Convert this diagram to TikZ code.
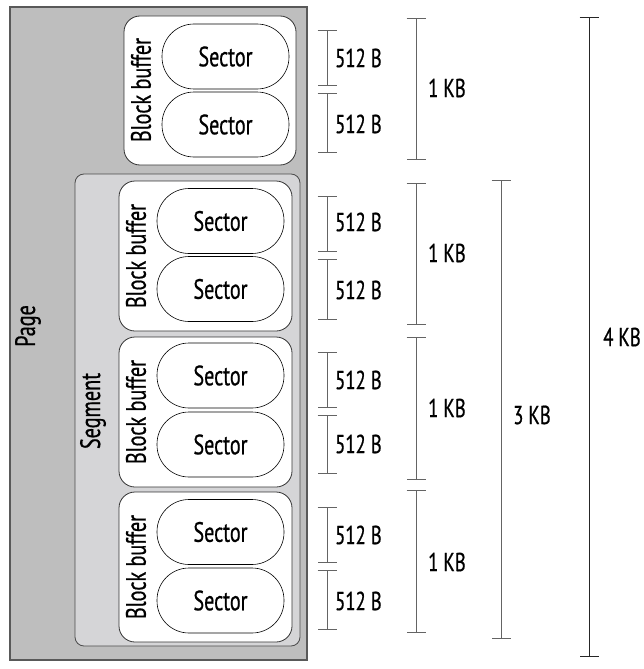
\documentclass[tikz,border=0pt]{standalone}
\usepackage{fontspec}
\setmainfont{PT Sans}[FakeStretch=0.72,FakeBold=0.6,AutoFakeBold=0]
\usetikzlibrary{arrows.meta}
\definecolor{pagegray}{RGB}{190,190,190}
\definecolor{seggray}{RGB}{213,213,215}
\definecolor{bargray}{RGB}{100,100,100}
\begin{document}
\begin{tikzpicture}[x=1pt,y=-1pt,
  lbl/.style={font=\fontsize{26}{28}\selectfont, inner sep=0pt},
  vlbl/.style={font=\fontsize{28}{30}\selectfont, inner sep=0pt, rotate=90},
  pagebox/.style={draw=black!65, line width=1.5pt, fill=pagegray, minimum width=297pt, minimum height=653pt, inner sep=0pt},
  segbox/.style={draw=black!70, line width=0.8pt, fill=seggray, rounded corners=9pt, minimum width=225pt, minimum height=472pt, inner sep=0pt},
  bbbox/.style={draw=black!80, line width=0.8pt, fill=white, rounded corners=16pt, minimum width=173pt, minimum height=150pt, inner sep=0pt},
  secbox/.style={draw=black, line width=0.6pt, fill=white, rounded corners=32pt, minimum width=127pt, minimum height=65pt, inner sep=0pt, font=\fontsize{28}{30}\selectfont},
  dim/.style={draw=bargray, line width=1pt, {Bar[width=19pt,line width=1pt]}-{Bar[width=19pt,line width=1pt]}},
  dimk/.style={draw=black!85, line width=1pt, {Bar[width=19pt,line width=1pt]}-{Bar[width=19pt,line width=1pt]}}
]
\useasboundingbox (0,0) rectangle (643,669);
% page and segment
\node[pagebox] (page) at (158.5,333.5) {};
\node[segbox] (seg) at (187.5,410) {};
\node[vlbl] (pagelbl) at (28,326) {Page};
\node[vlbl] (seglbl) at (93,411) {Segment};
% block buffers
\node[bbbox, minimum width=172pt, minimum height=149pt] (bb1) at (210,90.5) {};
\node[bbbox] (bb2) at (205.5,256) {};
\node[bbbox] (bb3) at (205.5,412) {};
\node[bbbox] (bb4) at (205.5,567) {};
\node[vlbl] (bbl1) at (141,90) {Block buffer};
\node[vlbl] (bbl2) at (136,256) {Block buffer};
\node[vlbl] (bbl3) at (136,412) {Block buffer};
\node[vlbl] (bbl4) at (136,567) {Block buffer};
% sectors
\node[secbox] (s1a) at (225.5,56.5) {Sector};
\node[secbox] (s1b) at (225.5,124.5) {Sector};
\node[secbox] (s2a) at (220.5,221) {Sector};
\node[secbox] (s2b) at (220.5,289) {Sector};
\node[secbox] (s3a) at (220.5,375.5) {Sector};
\node[secbox] (s3b) at (220.5,444.5) {Sector};
\node[secbox] (s4a) at (220.5,532) {Sector};
\node[secbox] (s4b) at (220.5,600.5) {Sector};
% 512 B dimension coordinates
\coordinate (a1t) at (327,30);  \coordinate (a1m) at (327,86);  \coordinate (a1n) at (327,93);  \coordinate (a1b) at (327,153);
\coordinate (a2t) at (327,196); \coordinate (a2m) at (327,252); \coordinate (a2n) at (327,259); \coordinate (a2b) at (327,320);
\coordinate (a3t) at (327,352); \coordinate (a3m) at (327,408); \coordinate (a3n) at (327,415); \coordinate (a3b) at (327,474);
\coordinate (a4t) at (327,507); \coordinate (a4m) at (327,563); \coordinate (a4n) at (327,570); \coordinate (a4b) at (327,630);
\draw[dim] (a1t) -- (a1m); \draw[dim] (a1n) -- (a1b);
\draw[dim] (a2t) -- (a2m); \draw[dim] (a2n) -- (a2b);
\draw[dim] (a3t) -- (a3m); \draw[dim] (a3n) -- (a3b);
\draw[dim] (a4t) -- (a4m); \draw[dim] (a4n) -- (a4b);
\node[lbl, anchor=west] (b1a) at (335,58) {512 B};
\node[lbl, anchor=west] (b1b) at (335,124) {512 B};
\node[lbl, anchor=west] (b2a) at (335,222) {512 B};
\node[lbl, anchor=west] (b2b) at (335,290) {512 B};
\node[lbl, anchor=west] (b3a) at (335,380) {512 B};
\node[lbl, anchor=west] (b3b) at (335,444) {512 B};
\node[lbl, anchor=west] (b4a) at (335,535) {512 B};
\node[lbl, anchor=west] (b4b) at (335,601) {512 B};
% 1 KB
\coordinate (k1t) at (416,18);  \coordinate (k1b) at (416,160);
\coordinate (k2t) at (416,183); \coordinate (k2b) at (416,325);
\coordinate (k3t) at (416,337); \coordinate (k3b) at (416,480);
\coordinate (k4t) at (416,490); \coordinate (k4b) at (416,633);
\draw[dim] (k1t) -- (k1b);
\draw[dim] (k2t) -- (k2b);
\draw[dim] (k3t) -- (k3b);
\draw[dim] (k4t) -- (k4b);
\node[lbl, anchor=west] (kl1) at (428,88) {1 KB};
\node[lbl, anchor=west] (kl2) at (428,253) {1 KB};
\node[lbl, anchor=west] (kl3) at (428,408) {1 KB};
\node[lbl, anchor=west] (kl4) at (428,562) {1 KB};
% 3 KB
\coordinate (t3t) at (501,180); \coordinate (t3b) at (501,639);
\draw[dim] (t3t) -- (t3b);
\node[lbl, anchor=west] (tl3) at (513,415) {3 KB};
% 4 KB
\coordinate (f4t) at (589,17); \coordinate (f4b) at (589,657);
\draw[dimk] (f4t) -- (f4b);
\node[lbl, anchor=west] (fl4) at (603,337) {4 KB};
\end{tikzpicture}
\end{document}
